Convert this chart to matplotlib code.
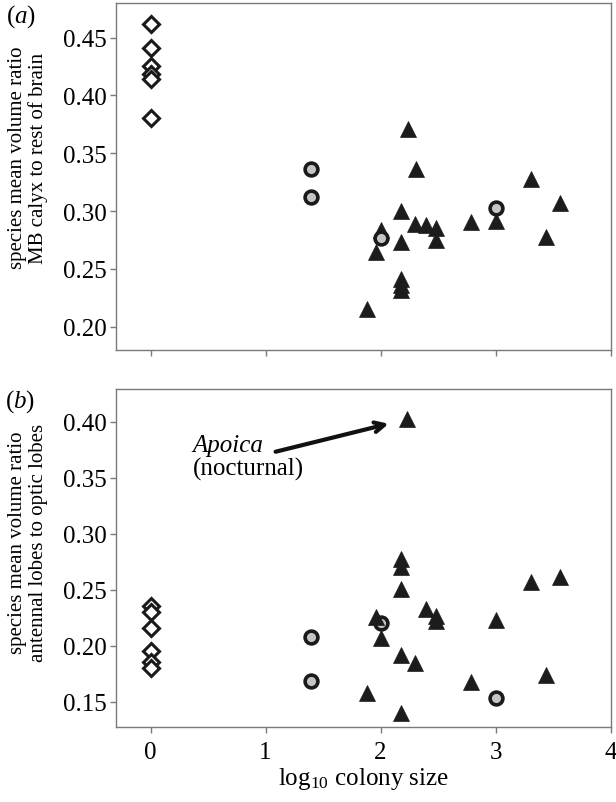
import matplotlib
matplotlib.use("Agg")
import matplotlib.pyplot as plt

plt.rcParams['font.family'] = ['Liberation Serif', 'DejaVu Serif']
plt.rcParams['mathtext.fontset'] = 'custom'
plt.rcParams['mathtext.rm'] = 'Liberation Serif'
plt.rcParams['mathtext.it'] = 'Liberation Serif:italic'

# ---- data: panel (a) MB calyx / rest of brain ----
a_solitary_x = [0, 0, 0, 0, 0, 0]
a_solitary_y = [0.4615, 0.4414, 0.4255, 0.4183, 0.4140, 0.3808]
a_circle_x = [1.397, 1.397, 2.006, 3.006]
a_circle_y = [0.3362, 0.3117, 0.2765, 0.3024]
a_tri_x = [2.238, 2.304, 3.304, 3.557, 2.180, 2.296, 2.397, 2.484, 2.783, 3.006,
           2.000, 2.484, 2.180, 3.441, 1.962, 2.180, 2.180, 2.180, 1.882]
a_tri_y = [0.3707, 0.3367, 0.3275, 0.3065, 0.3001, 0.2886, 0.2877, 0.2857, 0.2901, 0.2915,
           0.2837, 0.2751, 0.2728, 0.2777, 0.2641, 0.2410, 0.2360, 0.2320, 0.2152]

# ---- data: panel (b) antennal lobes / optic lobes ----
b_solitary_x = [0, 0, 0, 0, 0, 0]
b_solitary_y = [0.2357, 0.2298, 0.2155, 0.1955, 0.1851, 0.1798]
b_circle_x = [1.397, 1.397, 2.006, 3.006]
b_circle_y = [0.2074, 0.1687, 0.2202, 0.1533]
b_tri_x = [2.232, 2.180, 2.180, 2.180, 3.304, 3.557, 2.397, 2.478, 2.478, 1.957,
           3.006, 2.006, 2.180, 2.296, 2.783, 3.441, 1.878, 2.180]
b_tri_y = [0.4024, 0.2774, 0.2699, 0.2506, 0.2565, 0.2610, 0.2327, 0.2265, 0.2215, 0.2253,
           0.2232, 0.2065, 0.1917, 0.1845, 0.1673, 0.1738, 0.1577, 0.1399]

a_yticks = [0.20, 0.25, 0.30, 0.35, 0.40, 0.45]
b_yticks = [0.15, 0.20, 0.25, 0.30, 0.35, 0.40]
xticks = [0, 1, 2, 3, 4]

fig = plt.figure(figsize=(6.16, 8.03), dpi=100)
ax_a = fig.add_axes([0.1883, 0.5633, 0.8031, 0.4317])
ax_b = fig.add_axes([0.1883, 0.0930, 0.8031, 0.4213])

spine_col = '#7a7a7a'
tri_col = '#1c1c1c'

def style(ax, yticks, ylim, fmt):
    ax.set_xlim(-0.3, 4.0)
    ax.set_ylim(*ylim)
    ax.set_xticks(xticks)
    ax.set_yticks(yticks)
    ax.set_yticklabels([fmt % v for v in yticks])
    for s in ax.spines.values():
        s.set_color(spine_col)
        s.set_linewidth(1.0)
    ax.tick_params(axis='both', direction='out', length=4, width=1.0,
                   color=spine_col, labelsize=18)
    ax.tick_params(axis='y', pad=3)
    ax.tick_params(axis='x', pad=6)

def draw(ax, sx, sy, cx, cy, tx, ty, circles_on_top):
    ax.plot(sx, sy, linestyle='none', marker='D', markersize=8.3,
            markerfacecolor='white', markeredgecolor='#1a1a1a',
            markeredgewidth=2.2, zorder=3)
    zc, zt = (5, 4) if circles_on_top else (4, 5)
    ax.plot(tx, ty, linestyle='none', marker='^', markersize=12.0,
            markerfacecolor=tri_col, markeredgecolor=tri_col,
            markeredgewidth=0.5, zorder=zt)
    ax.plot(cx, cy, linestyle='none', marker='o', markersize=9.2,
            markerfacecolor='#c4c4c4', markeredgecolor='#1a1a1a',
            markeredgewidth=2.6, zorder=zc)

draw(ax_a, a_solitary_x, a_solitary_y, a_circle_x, a_circle_y, a_tri_x, a_tri_y, True)
draw(ax_b, b_solitary_x, b_solitary_y, b_circle_x, b_circle_y, b_tri_x, b_tri_y, False)

style(ax_a, a_yticks, (0.180, 0.480), '%.2f')
style(ax_b, b_yticks, (0.127, 0.429), '%.2f')
ax_a.set_xticklabels([])
ax_b.set_xlabel(r'log$_{10}$ colony size', fontsize=18, labelpad=1)

# y labels (two lines, rotated)
fig.text(28 / 616, 1 - 158 / 803, 'species mean volume ratio\nMB calyx to rest of brain',
         rotation=90, ha='center', va='center', fontsize=15, linespacing=1.1)
fig.text(28 / 616, 1 - 543 / 803, 'species mean volume ratio\nantennal lobes to optic lobes',
         rotation=90, ha='center', va='center', fontsize=15, linespacing=1.1)

# panel labels
fig.text(21 / 616, 1 - 17 / 803, r'($\mathit{a}$)', ha='center', va='center', fontsize=18)
fig.text(20 / 616, 1 - 402 / 803, r'($\mathit{b}$)', ha='center', va='center', fontsize=18)

# Apoica annotation
ax_b.annotate('', xy=(2.07, 0.398), xytext=(1.087, 0.373),
              arrowprops=dict(arrowstyle='->,head_length=0.7,head_width=0.35',
                              lw=3.0, color='#111111', shrinkA=0, shrinkB=0))
ax_b.text(0.365, 0.3738, 'Apoica', style='italic', fontsize=18, ha='left', va='baseline')
ax_b.text(0.365, 0.3524, '(nocturnal)', fontsize=18, ha='left', va='baseline')

fig.savefig('out.png', dpi=100)
